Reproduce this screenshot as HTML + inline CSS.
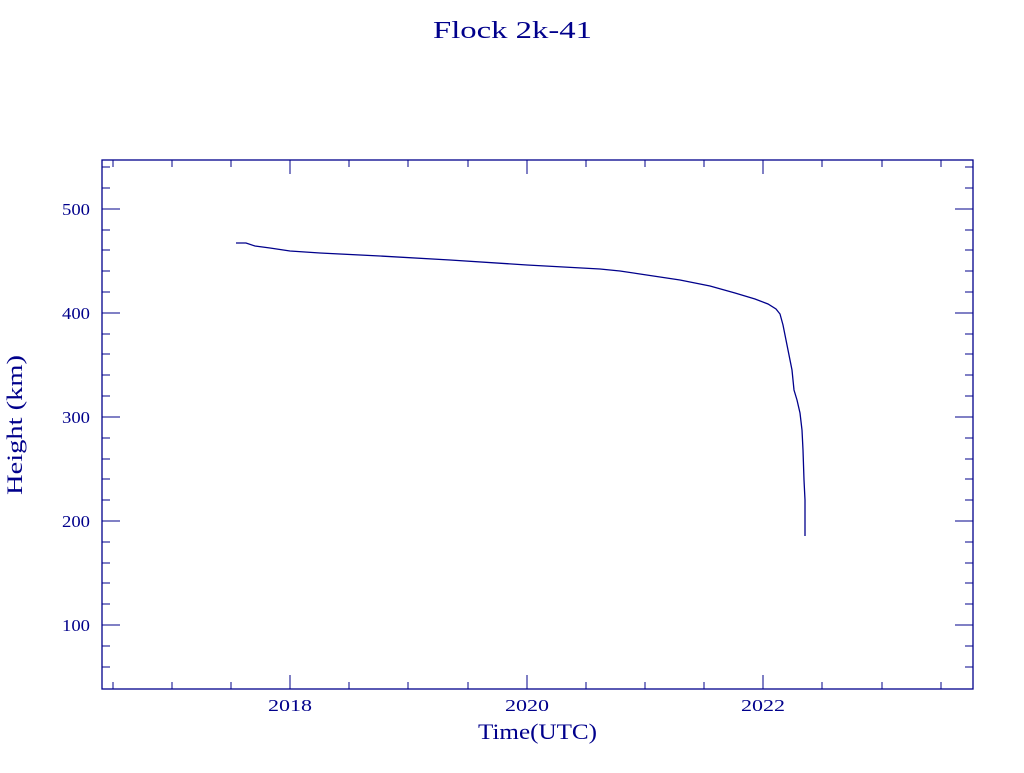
<!DOCTYPE html>
<html><head><style>
body{margin:0;background:#fff;}
svg text{font-family:"Liberation Serif",serif;fill:#00008b;}
</style></head><body>
<svg width="1024" height="768" xmlns="http://www.w3.org/2000/svg">
<rect width="1024" height="768" fill="#fff"/>
<text x="433" y="38" font-size="24" textLength="159" lengthAdjust="spacingAndGlyphs">Flock 2k-41</text>
<rect x="102" y="160" width="871" height="529" fill="none" stroke="#00008b" stroke-width="1.3"/>
<g stroke="#00008b" stroke-width="1">
<path d="M102 209h18M102 313h18M102 417h18M102 521h18M102 625h18M973 209h-18M973 313h-18M973 417h-18M973 521h-18M973 625h-18"/>
<path d="M102 667h8M102 646h8M102 604h8M102 583h8M102 563h8M102 542h8M102 500h8M102 479h8M102 459h8M102 438h8M102 396h8M102 375h8M102 354h8M102 334h8M102 292h8M102 271h8M102 250h8M102 230h8M102 188h8M102 167h8
M973 667h-8M973 646h-8M973 604h-8M973 583h-8M973 563h-8M973 542h-8M973 500h-8M973 479h-8M973 459h-8M973 438h-8M973 396h-8M973 375h-8M973 354h-8M973 334h-8M973 292h-8M973 271h-8M973 250h-8M973 230h-8M973 188h-8M973 167h-8"/>
<path d="M290 689v-14M527 689v-14M763 689v-14M290 160v14M527 160v14M763 160v14
M113 689v-7M172 689v-7M231 689v-7M349 689v-7M408 689v-7M468 689v-7M586 689v-7M645 689v-7M704 689v-7M822 689v-7M882 689v-7M941 689v-7
M113 160v7M172 160v7M231 160v7M349 160v7M408 160v7M468 160v7M586 160v7M645 160v7M704 160v7M822 160v7M882 160v7M941 160v7"/>
</g>
<g font-size="17">
<text x="62" y="215" textLength="28" lengthAdjust="spacingAndGlyphs">500</text>
<text x="62" y="319" textLength="28" lengthAdjust="spacingAndGlyphs">400</text>
<text x="62" y="423" textLength="28" lengthAdjust="spacingAndGlyphs">300</text>
<text x="62" y="527" textLength="28" lengthAdjust="spacingAndGlyphs">200</text>
<text x="62" y="631" textLength="28" lengthAdjust="spacingAndGlyphs">100</text>
<text x="268" y="711" textLength="44" lengthAdjust="spacingAndGlyphs">2018</text>
<text x="505" y="711" textLength="44" lengthAdjust="spacingAndGlyphs">2020</text>
<text x="741" y="711" textLength="44" lengthAdjust="spacingAndGlyphs">2022</text>
</g>
<text x="478" y="739" font-size="22" textLength="119" lengthAdjust="spacingAndGlyphs">Time(UTC)</text>
<text transform="translate(22,495) rotate(-90)" font-size="22" textLength="140" lengthAdjust="spacingAndGlyphs">Height (km)</text>
<polyline fill="none" stroke="#00008b" stroke-width="1.3" points="236,243 246,243 255,246 270,248 290,251 320,253 380,256 450,260 527,265 600,269 620,271 640,274 680,280 710,286 735,293 755,299 768,304 776,309 780,314 783,325 786,340 789,355 792,370 794,390 797,400 800,413 802,430 803,450 804,480 805,500 805,536"/>
</svg>
</body></html>
